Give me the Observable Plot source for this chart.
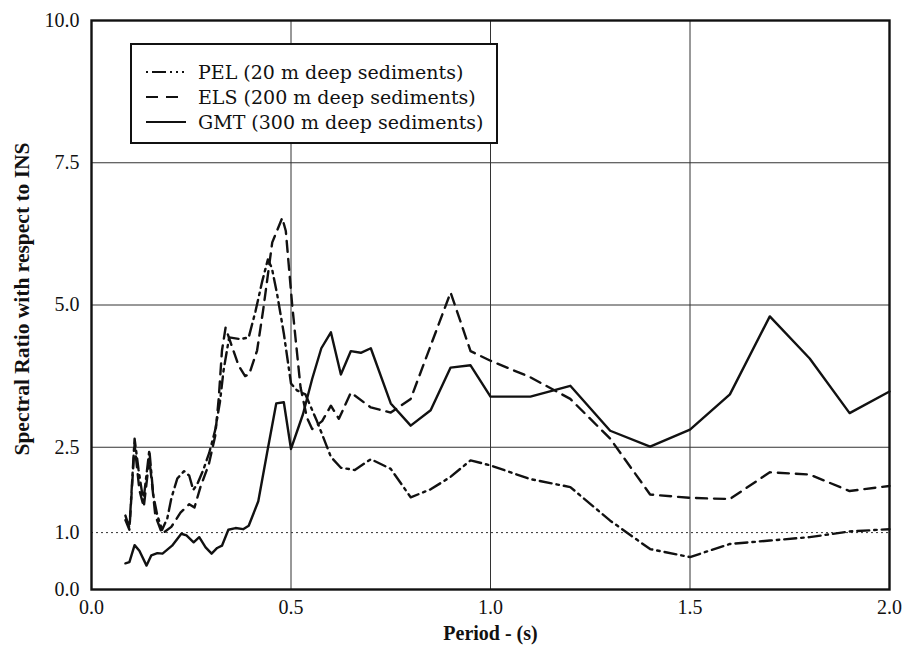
<!DOCTYPE html>
<html>
<head>
<meta charset="utf-8">
<script src="https://cdn.jsdelivr.net/npm/d3@7"></script>
<script src="https://cdn.jsdelivr.net/npm/@observablehq/plot@0.6"></script>
<style>
  html, body { margin: 0; padding: 0; background: white; }
  #wrap { position: relative; width: 907px; height: 657px; }
  #legend { position: absolute; left: 130px; top: 43px; width: 364px; height: 97px;
            border: 2px solid #111; background: white; font-family: "DejaVu Serif", serif;
            font-size: 19px; color: #111; }
  #legend .row { position: absolute; left: 0; height: 25px; display: flex; align-items: center; }
  #legend svg { margin-left: 14px; margin-right: 12px; }
</style>
</head>
<body>
<div id="wrap"></div>
<script>
// ---- data ----
const seriesNames = ["PEL (20 m deep sediments)", "ELS (200 m deep sediments)", "GMT (300 m deep sediments)"];

const pelPeriod = [0.085,0.095,0.108,0.118,0.13,0.145,0.155,0.165,0.177,0.19,0.2,0.215,0.232,0.245,0.255,0.265,0.28,0.295,0.31,0.322,0.331,0.345,0.373,0.394,0.411,0.428,0.442,0.452,0.465,0.482,0.5,0.515,0.536,0.565,0.6,0.625,0.66,0.7,0.75,0.8,0.85,0.9,0.95,1.0,1.1,1.2,1.3,1.4,1.5,1.6,1.7,1.8,1.9,2.0];
const pelRatio  = [1.30,1.08,2.65,2.10,1.55,2.45,1.65,1.30,1.05,1.25,1.60,1.95,2.08,2.00,1.75,1.85,2.10,2.40,2.80,3.30,3.85,4.43,4.40,4.43,4.89,5.42,5.80,5.65,5.20,4.50,3.62,3.50,3.43,2.96,2.33,2.14,2.10,2.29,2.12,1.62,1.76,1.98,2.27,2.18,1.94,1.80,1.21,0.71,0.57,0.80,0.86,0.92,1.02,1.06];

const elsPeriod = [0.085,0.095,0.108,0.12,0.131,0.145,0.16,0.177,0.2,0.223,0.245,0.258,0.273,0.294,0.31,0.319,0.327,0.336,0.353,0.369,0.385,0.395,0.415,0.43,0.453,0.478,0.487,0.495,0.503,0.512,0.524,0.54,0.553,0.578,0.6,0.62,0.65,0.7,0.75,0.8,0.9,0.95,1.0,1.1,1.2,1.3,1.4,1.5,1.6,1.7,1.8,1.9,2.0];
const elsRatio  = [1.22,1.05,2.55,1.75,1.45,2.30,1.30,0.98,1.10,1.35,1.50,1.44,1.80,2.20,2.70,3.37,4.20,4.60,4.25,3.93,3.75,3.78,4.20,4.90,6.10,6.53,6.30,5.65,5.00,4.37,3.55,3.02,2.82,2.96,3.23,3.00,3.46,3.20,3.11,3.35,5.22,4.19,4.02,3.73,3.35,2.65,1.67,1.61,1.59,2.06,2.02,1.73,1.82];

const gmtPeriod = [0.085,0.095,0.108,0.12,0.138,0.15,0.165,0.178,0.202,0.225,0.238,0.256,0.27,0.286,0.301,0.315,0.327,0.343,0.361,0.38,0.394,0.418,0.44,0.463,0.482,0.5,0.53,0.553,0.576,0.6,0.625,0.65,0.675,0.7,0.75,0.8,0.85,0.9,0.95,1.0,1.1,1.2,1.3,1.4,1.5,1.6,1.7,1.8,1.9,2.0];
const gmtRatio  = [0.46,0.48,0.78,0.68,0.42,0.60,0.64,0.63,0.77,0.98,0.95,0.83,0.92,0.74,0.63,0.73,0.77,1.05,1.08,1.06,1.12,1.55,2.40,3.27,3.29,2.47,3.08,3.70,4.24,4.52,3.78,4.19,4.16,4.24,3.27,2.88,3.15,3.90,3.94,3.39,3.39,3.58,2.79,2.51,2.81,3.43,4.80,4.06,3.10,3.48];

const xTicks = [0, 0.5, 1.0, 1.5, 2.0];
const yTicks = [0, 1.0, 2.5, 5.0, 7.5, 10.0];
const xGrid = [0.5, 1.0, 1.5];
const yGrid = [2.5, 5.0, 7.5];
const refLine = [1.0];

const toRows = (px, py) => px.map((p, i) => ({period: p, ratio: py[i]}));
const pel = toRows(pelPeriod, pelRatio);
const els = toRows(elsPeriod, elsRatio);
const gmt = toRows(gmtPeriod, gmtRatio);

const dashes = {PEL: "12,5,2.5,5", ELS: "11,7", GMT: null};
const lw = 2.4;

const chart = Plot.plot({
  width: 907,
  height: 657,
  marginLeft: 91,
  marginRight: 18,
  marginTop: 20,
  marginBottom: 68,
  style: {fontFamily: "'Liberation Serif', 'Times New Roman', serif", fontSize: "20px", background: "white", color: "#111"},
  x: {domain: [0, 2], ticks: xTicks, tickFormat: d3.format(".1f"), label: null},
  y: {domain: [0, 10], ticks: yTicks, tickFormat: d3.format(".1f"), label: null},
  marks: [
    Plot.ruleX(xGrid, {stroke: "#333", strokeWidth: 1}),
    Plot.ruleY(yGrid, {stroke: "#333", strokeWidth: 1}),
    Plot.ruleY(refLine, {stroke: "#333", strokeWidth: 1, strokeDasharray: "2,3"}),
    Plot.axisX({ticks: xTicks, tickFormat: d3.format(".1f"), tickSize: 0, tickPadding: 10, fontSize: 20, label: null}),
    Plot.axisY({ticks: yTicks, tickFormat: d3.format(".1f"), tickSize: 0, tickPadding: 12, fontSize: 20, label: null}),
    Plot.line(pel, {x: "period", y: "ratio", stroke: "#111", strokeWidth: lw, strokeDasharray: dashes.PEL}),
    Plot.line(els, {x: "period", y: "ratio", stroke: "#111", strokeWidth: lw, strokeDasharray: dashes.ELS}),
    Plot.line(gmt, {x: "period", y: "ratio", stroke: "#111", strokeWidth: lw}),
    Plot.frame({stroke: "#111", strokeWidth: 2.4}),
    Plot.text(["Spectral Ratio with respect to INS"], {frameAnchor: "left", dx: -69, dy: -6, rotate: -90, textAnchor: "middle", fontSize: 21.5, fontWeight: "bold", fill: "#111"}),
    Plot.text(["Period - (s)"], {frameAnchor: "bottom", dy: 50, textAnchor: "middle", fontSize: 20, fontWeight: "bold", fill: "#111"})
  ]
});

const wrap = document.getElementById("wrap");
wrap.appendChild(chart);

// legend (HTML overlay inside the plot area)
const legend = document.createElement("div");
legend.id = "legend";
const rowsTop = [14, 39, 64];
["PEL", "ELS", "GMT"].forEach((k, i) => {
  const row = document.createElement("div");
  row.className = "row";
  row.style.top = rowsTop[i] + "px";
  const svgNS = "http://www.w3.org/2000/svg";
  const s = document.createElementNS(svgNS, "svg");
  s.setAttribute("width", 40); s.setAttribute("height", 10);
  const ln = document.createElementNS(svgNS, "line");
  ln.setAttribute("x1", 0); ln.setAttribute("x2", 40);
  ln.setAttribute("y1", 5); ln.setAttribute("y2", 5);
  ln.setAttribute("stroke", "#111"); ln.setAttribute("stroke-width", 2);
  if (k === "PEL") ln.setAttribute("stroke-dasharray", "2,4,14,4,2,4,2,4");
  if (k === "ELS") ln.setAttribute("stroke-dasharray", "12,8");
  s.appendChild(ln);
  row.appendChild(s);
  const t = document.createElement("span");
  t.textContent = seriesNames[i];
  row.appendChild(t);
  legend.appendChild(row);
});
wrap.appendChild(legend);
</script>
</body>
</html>
